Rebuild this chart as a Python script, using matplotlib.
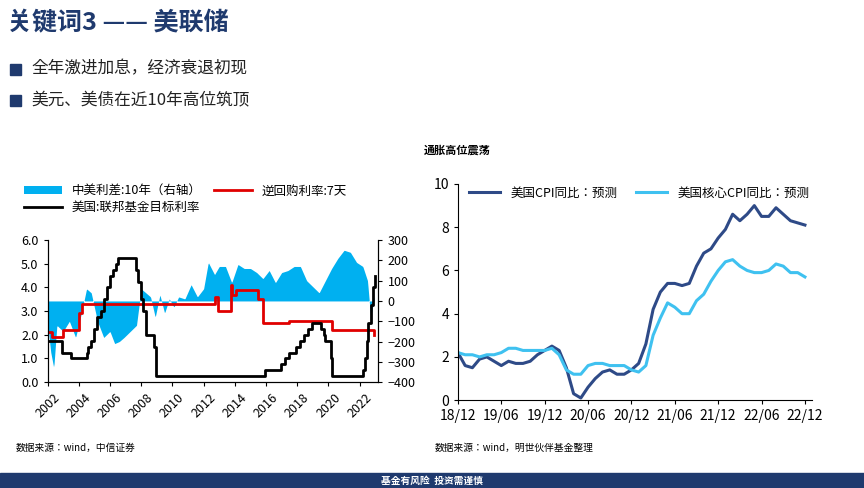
import matplotlib.pyplot as plt
import matplotlib.patches as mpatches
import numpy as np

plt.rcParams['font.family'] = ['Noto Sans CJK SC', 'Noto Sans CJK JP', 'DejaVu Sans']

# left chart data
fed_t = [2002.0, 2002.9, 2003.5, 2004.5, 2004.6, 2004.8, 2005.0, 2005.2, 2005.4, 2005.6, 2005.8, 2006.0, 2006.2, 2006.4, 2006.5,
         2007.7, 2007.8, 2008.0, 2008.1, 2008.3, 2008.8, 2008.95, 2015.95, 2016.95, 2017.2, 2017.45, 2017.95, 2018.2,
         2018.45, 2018.7, 2018.95, 2019.55, 2019.7, 2019.8, 2020.15, 2020.2, 2022.2, 2022.35, 2022.45, 2022.55, 2022.7, 2022.85, 2022.95]
fed_v = [1.75, 1.25, 1.0, 1.25, 1.5, 1.75, 2.25, 2.75, 3.0, 3.5, 4.0, 4.5, 4.75, 5.0, 5.25,
         4.75, 4.25, 3.5, 3.0, 2.0, 1.5, 0.25, 0.5, 0.75, 1.0, 1.25, 1.5, 1.75,
         2.0, 2.25, 2.5, 2.25, 2.0, 1.75, 1.0, 0.25, 0.5, 1.0, 1.75, 2.5, 3.25, 4.0, 4.5]
repo_t = [2002.0, 2002.3, 2003.0, 2003.8, 2004.0, 2004.2, 2012.7, 2012.75, 2012.9, 2013.7, 2013.75, 2013.8, 2014.1, 2015.3, 2015.5,
          2015.8, 2017.0, 2017.5, 2018.5, 2019.8, 2020.2, 2022.3, 2022.9]
repo_v = [2.1, 1.9, 2.2, 2.2, 2.9, 3.3, 3.3, 3.6, 3.0, 3.0, 4.1, 3.7, 3.9, 3.9, 3.5,
          2.5, 2.5, 2.6, 2.6, 2.6, 2.2, 2.2, 2.0]
spr_t = [2002.0, 2002.2, 2002.4, 2002.6, 2003.0, 2003.4, 2003.8, 2004.2, 2004.5, 2004.8, 2005.2, 2005.6, 2006.0, 2006.3, 2006.6, 2006.9,
         2007.3, 2007.7, 2008.0, 2008.3, 2008.6, 2008.9, 2009.2, 2009.5, 2009.8, 2010.1, 2010.4, 2010.8, 2011.2, 2011.6, 2012.0,
         2012.3, 2012.7, 2013.0, 2013.4, 2013.8, 2014.2, 2014.6, 2015.0, 2015.4, 2015.8, 2016.2, 2016.6, 2017.0, 2017.4, 2017.8,
         2018.2, 2018.6, 2019.0, 2019.4, 2019.8, 2020.2, 2020.6, 2021.0, 2021.4, 2021.8, 2022.2, 2022.5, 2022.7, 2022.95]
spr_v = [-100, -250, -330, -120, -150, -100, -180, -50, 60, 40, -100, -180, -150, -210, -200, -180,
         -150, -120, 60, 40, 20, -80, 30, -60, 10, -30, 20, 10, 80, 20, 60,
         190, 130, 170, 170, 90, 180, 160, 160, 140, 110, 150, 90, 140, 150, 170,
         170, 100, 70, 40, 100, 160, 210, 250, 240, 190, 170, 100, -80, 20]

# right chart data, monthly 2018/12 .. 2022/12
cpi = [2.2, 1.6, 1.5, 1.9, 2.0, 1.8, 1.6, 1.8, 1.7, 1.7, 1.8, 2.1, 2.3, 2.5, 2.3, 1.5, 0.3, 0.1, 0.6, 1.0, 1.3, 1.4, 1.2, 1.2,
       1.4, 1.7, 2.6, 4.2, 5.0, 5.4, 5.4, 5.3, 5.4, 6.2, 6.8, 7.0, 7.5, 7.9, 8.6, 8.3, 8.6, 9.0, 8.5, 8.5, 8.9, 8.6, 8.3, 8.2, 8.1]
core = [2.2, 2.1, 2.1, 2.0, 2.1, 2.1, 2.2, 2.4, 2.4, 2.3, 2.3, 2.3, 2.3, 2.4, 2.1, 1.4, 1.2, 1.2, 1.6, 1.7, 1.7, 1.6, 1.6, 1.6,
        1.4, 1.3, 1.6, 3.0, 3.8, 4.5, 4.3, 4.0, 4.0, 4.6, 4.9, 5.5, 6.0, 6.4, 6.5, 6.2, 6.0, 5.9, 5.9, 6.0, 6.3, 6.2, 5.9, 5.9, 5.7]
r_ticks = ['18/12', '19/06', '19/12', '20/06', '20/12', '21/06', '21/12', '22/06', '22/12']

navy = '#1f3a6e'
fig = plt.figure(figsize=(8.64, 4.88), dpi=100)

# slide header
fig.text(0.008, 0.952, '关键词3 —— 美联储', fontsize=18, fontweight='bold', color=navy, va='center')
for y, s in [(0.858, '全年激进加息，经济衰退初现'), (0.795, '美元、美债在近10年高位筑顶')]:
    fig.add_artist(mpatches.Rectangle((0.012, y - 0.012), 0.012, 0.022, color=navy))
    fig.text(0.036, y, s, fontsize=12, va='center', color='#222222')
fig.add_artist(mpatches.Rectangle((0, 0), 1, 0.03, color=navy))
fig.text(0.5, 0.015, '基金有风险  投资需谨慎', fontsize=7, color='white', ha='center', va='center', fontweight='bold')

# left chart
ax = fig.add_axes([0.055, 0.217, 0.383, 0.291])
ax2 = ax.twinx()
sp_t = np.linspace(2002, 2022.95, 600)
sp = np.interp(sp_t, spr_t, spr_v)
ax2.fill_between(sp_t, 0, sp, color='#00b0f0', lw=0, label='中美利差:10年（右轴）')
ax2.set_ylim(-400, 300)
ax2.set_yticks(range(-400, 301, 100))
ax.set_zorder(ax2.get_zorder() + 1)
ax.patch.set_visible(False)
ax.plot(repo_t, repo_v, drawstyle='steps-post', color='#e00000', lw=2, label='逆回购利率:7天')
ax.plot(fed_t, fed_v, drawstyle='steps-post', color='black', lw=2, label='美国:联邦基金目标利率')
ax.set_ylim(0, 6)
ax.set_yticks(np.arange(0, 6.01, 1))
ax.set_yticklabels([f'{v:.1f}' for v in np.arange(0, 6.01, 1)])
ax.set_xlim(2002, 2023.2)
ax.set_xticks(range(2002, 2023, 2))
ax.set_xticklabels([str(y) for y in range(2002, 2023, 2)], rotation=45)
for a in (ax, ax2):
    a.tick_params(labelsize=9, length=3)
    a.spines['top'].set_visible(False)
h1, l1 = ax2.get_legend_handles_labels()
h2, l2 = ax.get_legend_handles_labels()
fig.legend([h1[0], h2[1], h2[0]], [l1[0], l2[1], l2[0]], ncol=2, loc='upper left',
           bbox_to_anchor=(0.015, 0.645), frameon=False, fontsize=9, handlelength=3,
           columnspacing=1, labelspacing=0.3)
fig.text(0.018, 0.075, '数据来源：wind，中信证券', fontsize=7)

# right chart
fig.text(0.49, 0.685, '通胀高位震荡', fontsize=8, fontweight='bold')
bx = fig.add_axes([0.530, 0.180, 0.410, 0.443])
x = np.arange(len(cpi))
bx.plot(x, cpi, color='#2e4a87', lw=2.2, label='美国CPI同比：预测')
bx.plot(x, core, color='#3fc1f0', lw=2.2, label='美国核心CPI同比：预测')
bx.set_ylim(0, 10)
bx.set_yticks(range(0, 11, 2))
bx.set_xlim(0, len(cpi))
bx.set_xticks(range(0, 49, 6))
bx.set_xticklabels(r_ticks)
bx.tick_params(labelsize=10, length=3)
bx.spines['top'].set_visible(False)
bx.spines['right'].set_visible(False)
bx.legend(loc='upper left', bbox_to_anchor=(0.0, 1.04), ncol=2, frameon=False, fontsize=9,
          handlelength=2.5, columnspacing=1.5)
fig.text(0.503, 0.075, '数据来源：wind，明世伙伴基金整理', fontsize=7)

fig.savefig('out.png', dpi=100)
